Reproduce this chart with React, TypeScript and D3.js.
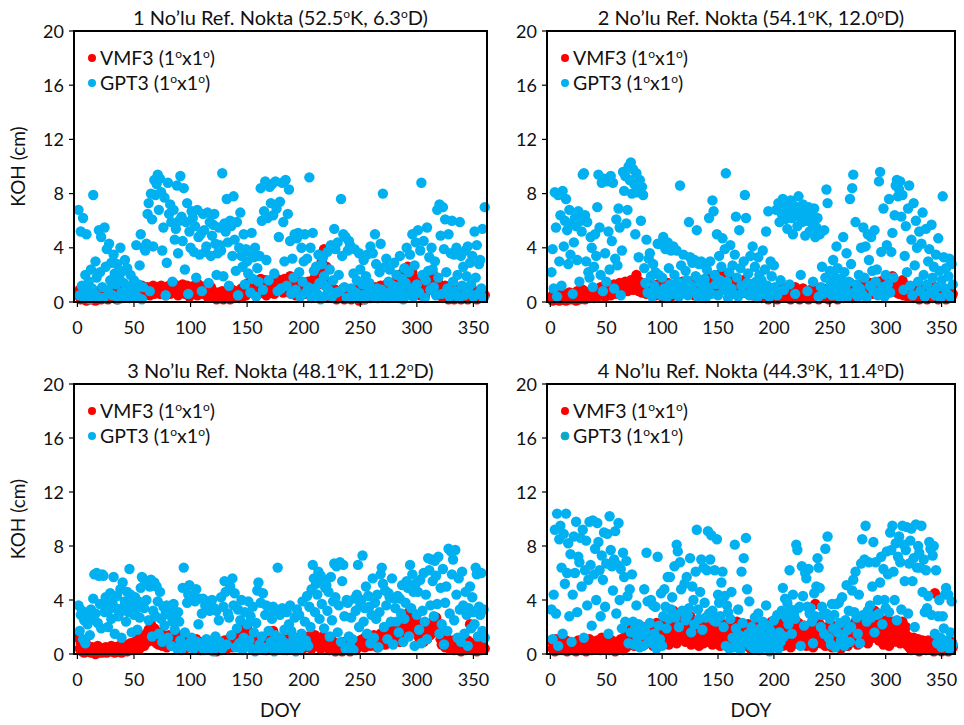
import React from "react";
import * as d3 from "d3";

// ---- data (DOY 1..360, one value per day) ----
const panelNumbers = ["1", "2", "3", "4"];
const panelLats = ["52.5", "54.1", "48.1", "44.3"];
const panelLons = ["6.3", "12.0", "11.2", "11.4"];
const seriesNames = ["VMF3", "GPT3"];
const xTicks = [0, 50, 100, 150, 200, 250, 300, 350];
const yTicks = [0, 4, 8, 12, 16, 20];

const vmf3P1 = [
  0.5,0.9,0.2,0.6,0.3,0.8,0.4,0.1,0.7,0.3, 0.6,0.2,0.9,0.4,0.5,0.1,0.7,0.3,0.8,0.4,
  0.2,0.6,0.9,0.3,0.5,0.7,0.2,0.8,0.4,0.6, 0.9,0.3,0.5,1.0,0.2,0.7,0.4,0.8,0.6,0.3,
  0.7,0.9,0.4,0.6,1.1,0.3,0.8,0.5,0.9,0.4, 0.6,1.0,0.8,0.4,0.9,0.7,1.2,0.5,0.8,1.0,
  0.7,1.1,0.9,0.5,1.0,0.8,1.2,0.6,0.9,1.1, 0.8,1.0,0.6,1.2,0.9,0.7,1.1,0.5,1.0,0.8,
  1.2,0.6,0.9,1.1,0.7,1.3,0.8,1.0,0.5,0.9, 1.1,0.7,1.3,0.9,0.6,1.0,1.2,0.8,0.4,1.1,
  0.9,0.6,1.2,0.8,1.0,0.5,1.3,0.7,1.1,0.9, 0.6,1.0,0.8,1.2,0.4,0.9,0.7,1.1,0.5,0.8,
  0.3,0.6,0.2,0.5,0.7,0.3,0.4,0.8,0.2,0.6, 0.4,0.7,0.3,0.5,0.2,0.6,0.9,0.4,0.3,0.7,
  0.5,0.8,0.3,0.6,1.0,0.4,0.7,1.2,0.5,0.9, 1.4,0.8,1.1,1.6,0.7,1.3,0.9,1.5,1.0,0.6,
  1.2,1.7,0.8,1.4,1.0,1.6,0.5,1.3,0.9,1.1, 0.7,1.5,1.2,0.6,1.8,1.0,1.4,0.8,1.6,1.1,
  1.3,0.7,1.7,1.0,1.5,0.9,1.2,1.9,0.6,1.4, 1.0,1.3,0.5,1.6,1.1,0.8,1.4,0.7,1.2,1.0,
  0.6,1.1,0.9,1.5,0.7,1.3,0.8,1.0,1.7,1.2, 1.5,2.1,1.3,2.5,1.8,3.0,2.2,3.9,1.6,2.6,
  1.2,0.8,0.4,1.0,0.3,0.7,0.5,0.9,0.2,0.6, 0.4,0.8,0.3,0.6,1.0,0.2,0.7,0.5,0.9,0.3,
  0.6,0.2,0.8,0.4,0.5,0.9,0.3,0.7,0.1,0.6, 0.3,0.7,0.5,0.2,0.8,0.4,0.6,0.9,0.3,0.5,
  0.8,0.4,1.1,0.6,0.3,0.9,0.5,1.2,0.7,0.4, 0.9,0.5,1.3,0.7,1.0,0.4,1.1,0.6,0.8,1.4,
  1.0,1.6,0.7,1.3,1.8,0.9,2.1,1.2,1.6,2.4, 1.5,2.6,1.1,1.9,0.8,2.2,1.3,1.0,0.6,1.7,
  0.9,1.4,0.5,1.2,0.7,1.0,0.4,1.5,0.8,1.1, 1.6,2.3,1.3,2.1,0.9,1.8,1.2,0.6,1.4,0.8,
  0.5,1.0,0.3,0.7,1.2,0.4,0.9,0.2,0.6,1.0, 0.4,0.8,0.2,0.6,0.3,0.9,0.5,0.7,0.2,0.4,
  0.6,0.3,0.9,0.5,0.2,0.7,0.4,1.0,0.3,0.6, 0.8,0.4,0.2,0.7,0.5,0.3,0.9,0.4,0.6,0.5,
];
const gpt3P1 = [
  6.8,0.5,5.2,1.2,6.2,0.3,2.0,5.0,0.8,1.5, 0.2,2.4,1.0,7.9,0.6,3.0,1.8,0.4,5.3,2.2,
  4.8,1.1,0.3,5.5,2.6,3.9,0.9,4.3,1.6,2.9, 0.5,3.5,2.1,1.3,2.8,0.2,1.9,4.0,0.7,2.3,
  1.4,3.1,0.4,2.5,1.0,0.3,2.0,1.2,0.6,1.6, 0.9,4.2,0.4,1.3,2.7,5.0,0.2,1.1,4.0,3.8,
  4.3,6.5,7.3,0.8,8.0,6.1,4.1,9.0,7.9,8.7, 9.4,6.8,9.1,8.1,3.8,5.5,7.7,0.5,2.9,8.8,
  6.5,7.2,5.9,1.5,6.8,4.6,5.4,8.6,3.6,6.0, 9.3,6.3,4.5,8.4,2.4,5.9,7.3,0.6,5.2,4.0,
  6.7,6.2,3.7,5.6,1.8,6.8,4.8,3.5,5.0,0.8, 6.5,5.3,3.7,4.1,6.6,1.4,5.9,3.4,4.9,5.7,
  6.5,4.3,2.0,3.6,5.5,4.2,3.8,9.5,1.9,5.8, 5.2,7.6,4.4,1.2,6.0,5.6,3.4,7.8,4.6,2.3,
  5.9,0.5,4.0,6.6,3.4,2.6,5.0,1.3,3.9,3.0, 2.1,3.7,0.7,5.1,1.7,3.3,4.0,0.4,2.5,1.5,
  3.4,8.4,6.0,0.9,6.7,8.9,3.1,6.2,1.6,8.5, 7.3,8.7,6.4,2.1,8.9,6.9,0.8,4.8,7.4,1.0,
  8.8,5.9,3.0,9.0,1.2,6.5,8.3,4.5,0.6,3.2, 1.8,5.0,0.9,4.7,5.1,2.2,0.4,4.0,1.5,3.0,
  5.0,0.7,3.2,1.1,9.2,4.0,0.3,5.1,2.3,1.0, 2.6,0.6,3.5,1.4,0.2,2.8,3.3,1.9,1.2,0.5,
  3.7,0.9,2.4,4.2,0.4,1.6,5.4,3.9,0.7,4.4, 2.0,0.8,7.6,3.4,5.0,1.1,4.8,0.3,3.8,4.5,
  4.2,1.0,0.4,2.1,3.9,0.7,1.6,0.3,3.6,2.4, 0.5,1.3,3.1,0.2,1.9,3.5,0.8,1.4,4.1,0.6,
  3.6,0.4,5.0,2.8,1.0,0.3,2.2,4.3,0.9,8.0, 0.5,2.6,3.2,0.3,1.5,2.4,0.8,0.4,1.2,2.9,
  0.6,2.0,1.1,0.3,3.4,0.9,1.7,0.2,2.5,1.4, 4.0,0.5,2.2,3.5,1.0,5.0,0.4,2.7,4.4,1.3,
  5.3,0.7,3.8,8.8,2.0,4.5,0.3,1.6,5.5,2.3, 3.3,0.9,4.0,2.4,1.1,3.0,0.5,6.8,1.8,7.2,
  4.9,0.6,7.0,3.9,6.1,2.2,1.0,5.0,0.4,3.6, 6.0,1.5,3.5,0.8,4.0,2.0,0.3,5.9,3.4,1.2,
  2.6,0.5,3.8,1.9,4.1,0.7,2.9,1.3,3.4,0.4, 5.2,1.8,4.2,0.6,2.8,3.1,1.0,5.4,0.3,7.0,
];
const vmf3P2 = [
  0.4,0.1,0.6,0.3,0.8,0.2,0.5,0.1,0.7,0.3, 0.2,0.6,0.4,0.1,0.5,0.3,0.7,0.2,0.4,0.6,
  0.3,0.5,0.1,0.8,0.4,0.2,0.6,0.3,0.9,0.5, 0.2,0.7,0.4,0.6,0.3,0.8,0.5,1.0,0.3,0.6,
  0.8,0.4,0.9,0.6,1.1,0.5,0.7,1.0,0.4,0.8, 0.6,1.2,0.8,0.5,1.0,0.7,1.3,0.9,0.6,1.1,
  0.8,1.4,1.0,0.7,1.2,0.9,1.5,1.1,0.8,1.3, 1.0,1.6,1.2,0.9,1.4,1.1,2.0,1.3,0.8,1.5,
  1.1,0.7,1.3,0.9,1.2,0.6,1.0,1.4,0.8,1.1, 0.7,1.2,0.9,0.5,1.0,1.3,0.6,0.9,1.1,0.4,
  0.8,1.2,0.5,0.9,1.4,0.7,1.0,0.4,1.2,0.8, 0.6,1.1,0.9,1.3,0.5,1.0,0.7,1.5,0.8,1.2,
  0.9,0.6,1.3,1.0,0.7,1.5,0.8,1.1,0.5,1.4, 1.0,1.3,0.7,1.6,0.9,1.2,0.6,1.4,1.0,1.7,
  1.1,0.8,1.5,1.2,1.9,0.9,1.4,1.0,1.6,2.0, 1.2,1.8,0.9,1.5,2.1,1.1,1.6,0.8,1.3,1.9,
  1.0,1.4,0.7,1.2,1.7,0.9,1.3,0.6,1.5,1.1, 0.8,1.2,1.6,0.7,1.0,1.4,0.6,1.1,0.9,1.3,
  0.5,1.0,0.8,1.2,0.4,0.9,0.7,1.1,0.3,0.8, 0.6,1.0,0.4,0.8,0.2,0.7,0.5,0.9,0.3,0.6,
  0.4,0.8,0.2,0.6,0.9,0.3,0.7,0.5,1.0,0.4, 0.7,0.3,0.9,0.5,0.2,0.8,0.4,0.6,1.1,0.3,
  0.5,0.9,0.2,0.7,0.4,1.0,0.6,0.3,0.8,0.5, 0.2,0.6,0.9,0.4,0.7,0.3,0.5,1.1,0.6,0.2,
  0.8,0.4,0.6,1.0,0.3,0.7,0.5,0.9,0.2,0.6, 0.4,0.8,0.3,0.6,1.0,0.5,0.2,0.7,0.4,0.9,
  0.6,0.3,0.8,1.2,0.5,0.9,0.4,1.4,0.7,0.3, 1.0,0.6,0.8,0.4,1.1,0.7,0.5,0.9,1.3,0.6,
  0.8,1.2,0.5,1.0,0.7,1.4,0.9,0.6,1.1,0.8, 1.3,0.7,1.0,1.5,0.8,1.2,0.6,1.6,0.9,1.1,
  1.4,0.8,1.7,1.0,1.3,1.9,0.9,1.2,1.5,0.7, 1.1,0.6,1.3,0.9,1.6,0.5,1.0,0.7,1.2,0.4,
  0.8,1.1,0.5,0.9,0.3,0.7,1.0,0.4,0.6,0.2, 0.5,0.9,0.3,0.7,0.4,0.8,0.2,0.6,1.0,0.4,
  0.7,0.3,0.6,1.1,0.5,0.8,0.2,0.5,0.9,0.3, 0.6,0.4,0.8,0.2,0.7,0.5,0.3,0.9,0.4,0.6,
];
const gpt3P2 = [
  2.2,3.9,1.0,8.1,5.5,0.4,7.9,3.0,6.4,1.2, 8.2,4.1,6.0,7.6,5.3,2.8,6.8,3.5,5.8,0.6,
  4.4,6.2,5.6,3.1,6.7,1.5,6.0,5.2,9.4,9.5, 6.4,3.0,5.9,2.2,1.8,4.8,4.0,1.1,2.6,5.0,
  3.4,7.0,9.4,5.5,2.0,8.8,0.8,9.1,3.6,1.5, 8.9,5.2,2.4,9.3,4.5,8.8,1.0,3.2,6.1,2.7,
  6.9,5.5,0.5,3.8,9.6,8.2,9.3,5.8,6.8,10.0, 9.0,10.3,8.0,9.8,8.7,5.0,9.5,8.1,3.3,9.0,
  6.0,8.5,7.9,2.5,1.4,4.6,0.7,3.2,3.6,1.9, 0.4,2.8,1.2,2.2,0.8,4.3,2.0,4.3,0.5,1.8,
  4.8,1.0,3.9,0.3,4.4,2.5,1.3,3.8,0.6,4.1, 2.0,0.9,3.8,1.5,0.4,8.6,2.7,1.1,3.5,0.7,
  2.3,1.6,0.5,5.9,3.3,1.2,2.9,0.8,3.1,1.9, 5.3,0.4,2.8,1.4,3.0,0.9,2.8,1.7,0.3,2.4,
  1.1,6.2,3.0,0.6,7.5,6.7,2.0,1.3,5.0,0.5, 3.4,1.6,2.6,4.7,0.9,3.9,9.5,1.5,0.3,2.2,
  4.2,1.0,2.7,0.6,3.5,6.3,1.8,0.4,5.3,2.5, 1.2,0.7,3.0,7.9,6.2,1.4,2.1,0.5,3.4,1.0,
  4.1,0.8,2.6,1.5,0.3,3.3,2.0,0.9,1.6,3.8, 0.6,2.4,5.2,1.2,6.7,0.4,3.0,1.9,0.7,2.7,
  1.1,6.8,0.5,7.3,5.9,1.6,6.5,7.6,0.9,6.1, 7.0,5.4,6.6,1.3,7.5,6.2,5.0,7.1,0.6,6.8,
  5.6,7.8,6.3,2.0,5.9,7.2,6.6,4.9,6.0,0.8, 7.0,5.2,6.4,5.8,1.5,6.9,4.8,5.5,6.2,0.4,
  5.0,1.1,2.6,0.6,5.3,1.8,8.3,7.3,0.9,2.3, 1.4,0.5,3.1,1.9,0.8,4.1,2.5,1.2,0.3,1.7,
  0.6,4.8,2.2,1.0,3.6,0.4,1.5,7.6,2.8,8.4, 9.4,0.7,5.9,1.3,0.4,2.0,1.0,4.0,0.6,5.5,
  1.8,4.1,0.3,5.0,3.1,1.2,4.8,2.3,0.8,5.3, 1.5,2.4,0.5,8.9,9.6,3.7,1.1,6.9,0.4,2.0,
  4.2,1.3,7.6,0.7,3.7,5.1,1.8,6.4,8.6,9.0, 7.8,8.3,8.9,6.3,7.9,0.9,3.4,5.6,2.2,6.9,
  8.6,1.2,4.6,0.5,7.3,2.7,6.0,4.0,1.5,5.2, 0.8,4.3,6.6,2.0,0.4,5.4,1.3,3.0,3.9,0.7,
  5.7,1.8,2.6,0.5,3.5,1.1,4.7,2.3,0.3,1.6, 7.8,3.3,1.0,2.5,0.6,1.9,3.2,0.4,2.8,1.3,
];
const vmf3P3 = [
  1.2,0.4,0.8,0.2,0.5,0.1,0.9,0.3,0.6,0.2, 0.3,0.1,0.5,0.2,0.4,0.0,0.3,0.6,0.1,0.2,
  0.4,0.1,0.3,0.2,0.5,0.1,0.4,0.2,0.3,0.6, 0.2,0.4,0.1,0.5,0.3,0.2,0.6,0.4,0.1,0.5,
  0.3,0.7,0.4,0.2,0.6,0.5,0.8,0.3,0.7,0.4, 0.9,0.5,1.1,0.7,0.4,1.0,0.8,1.3,0.6,1.2,
  1.5,0.9,1.8,1.2,2.2,1.6,1.0,1.9,1.4,0.8, 1.3,0.7,1.6,1.1,0.6,1.4,0.9,1.2,0.5,1.0,
  1.4,0.8,1.1,0.6,1.3,0.9,1.5,0.7,1.0,0.5, 0.9,1.2,0.6,1.0,0.4,0.8,1.1,0.5,0.9,0.7,
  1.0,0.6,0.8,0.4,1.1,0.7,0.5,0.9,0.3,0.8, 0.6,0.9,0.4,0.7,1.0,0.5,0.8,0.3,0.6,0.9,
  0.4,0.7,0.2,0.6,0.9,0.5,0.3,0.8,0.6,1.0, 0.7,0.4,0.9,0.6,1.2,0.8,0.5,1.0,0.7,1.3,
  0.9,1.5,1.1,0.7,1.8,1.3,1.0,1.6,0.8,1.9, 1.2,0.9,1.4,0.6,1.1,0.8,1.3,0.5,1.0,0.7,
  0.9,0.4,1.2,0.7,0.5,1.0,0.3,0.8,1.1,0.6, 1.3,0.8,1.7,0.5,1.0,0.7,1.2,0.4,0.9,0.6,
  0.8,1.1,0.5,0.9,0.3,0.7,1.0,0.6,1.3,0.4, 0.7,1.0,0.5,0.8,1.2,0.6,0.9,0.3,1.1,0.7,
  1.0,0.5,0.8,1.3,0.6,0.9,0.4,1.1,0.7,1.4, 0.8,1.2,0.6,1.0,0.4,0.9,1.3,0.7,0.5,1.1,
  0.6,0.9,0.3,0.7,1.0,0.5,0.8,0.2,0.6,0.4, 0.8,0.3,0.6,0.2,0.5,0.9,0.4,0.7,0.3,0.6,
  0.2,0.5,0.8,0.4,0.6,0.3,0.9,0.5,0.7,1.0, 0.6,1.1,0.8,0.5,1.3,0.9,0.7,1.2,0.6,1.0,
  0.8,1.4,0.7,1.1,0.5,1.2,0.9,1.5,0.8,1.0, 1.3,0.7,1.1,1.6,0.9,1.4,1.0,1.7,0.8,1.2,
  1.5,1.0,1.8,1.3,0.9,1.6,2.0,1.2,2.3,1.7, 2.6,2.0,3.1,2.4,2.8,2.2,3.0,1.9,2.5,2.1,
  1.6,1.2,1.8,1.0,1.4,0.9,1.7,1.3,1.1,1.5, 1.9,1.4,2.2,1.7,2.5,2.0,2.7,1.8,2.3,1.5,
  1.1,0.7,1.3,0.9,0.5,1.2,0.8,1.0,0.4,0.9, 0.6,1.0,0.3,0.8,0.5,1.1,0.4,0.7,0.2,0.6,
  0.9,0.5,0.3,0.7,1.0,0.4,2.2,0.6,0.3,0.8, 0.5,0.9,0.2,0.6,0.4,1.0,0.3,0.7,0.5,0.4,
];
const gpt3P3 = [
  3.6,1.7,2.9,3.2,1.1,2.5,0.8,3.0,2.2,2.9, 1.4,3.3,2.6,4.1,5.9,3.0,6.0,2.3,5.8,3.7,
  1.9,5.9,5.8,3.1,4.2,3.6,2.0,3.3,4.5,2.6, 3.8,5.7,1.5,3.4,4.3,2.8,3.0,4.8,1.2,5.3,
  3.5,3.9,2.4,4.6,3.1,6.3,4.4,1.6,3.7,2.9, 4.2,3.3,1.8,3.9,2.7,4.9,5.7,5.6,3.4,5.4,
  4.0,5.2,2.5,5.0,5.5,1.3,3.2,5.3,2.8,5.0, 3.9,1.5,4.6,2.6,0.9,3.5,2.1,3.0,3.6,1.2,
  2.9,3.3,0.6,2.4,3.7,1.8,2.7,0.4,3.1,2.4, 1.0,0.3,4.9,6.4,1.6,0.7,3.8,4.4,5.1,0.5,
  1.2,4.3,0.4,3.9,4.8,0.9,2.2,4.1,0.6,3.0, 4.1,0.3,3.6,1.1,3.9,0.5,3.2,0.8,4.0,0.2,
  3.4,1.3,3.2,0.6,2.5,0.9,4.2,0.4,3.5,5.4, 4.6,0.7,3.0,2.7,5.0,1.4,5.6,3.6,4.5,0.5,
  1.9,3.3,0.8,2.5,4.0,0.3,1.2,3.1,0.6,2.2, 3.9,1.0,2.8,0.4,3.5,1.6,0.2,2.3,4.7,5.3,
  0.7,3.8,1.3,4.5,0.3,2.9,3.6,0.5,1.7,3.2, 0.9,2.6,3.5,0.2,1.4,3.0,6.4,0.6,2.9,1.1,
  3.4,0.3,1.8,0.8,3.1,0.4,2.2,3.6,1.7,0.5, 1.2,2.7,0.2,3.3,0.9,2.9,0.4,1.5,3.9,0.7,
  2.4,1.0,4.3,0.6,3.5,2.0,4.8,6.6,5.6,3.1, 5.2,4.4,6.1,2.6,5.8,3.7,5.5,1.9,4.9,5.1,
  3.2,4.6,1.3,5.7,2.5,3.9,6.7,4.2,6.5,1.6, 3.6,6.8,0.9,5.4,6.6,2.8,0.4,4.0,3.8,1.3,
  0.6,2.7,1.1,0.3,4.1,3.2,4.4,6.6,2.0,3.6, 4.0,7.3,2.4,3.4,5.0,1.5,4.3,3.5,0.8,2.9,
  5.6,1.2,3.8,2.6,4.4,0.5,3.1,5.9,6.4,5.2, 2.0,4.7,3.6,1.1,4.5,4.2,2.4,5.6,0.7,4.1,
  3.4,2.4,4.3,1.6,4.1,3.0,5.1,0.9,2.6,3.8, 5.4,4.9,1.3,6.6,3.4,5.9,4.6,0.6,5.2,2.9,
  4.6,1.8,5.5,0.8,3.2,6.0,2.4,4.4,1.1,7.1, 6.2,3.6,7.0,5.4,2.8,6.9,5.8,3.7,7.2,1.5,
  4.9,2.2,6.3,0.7,3.8,5.0,1.7,7.8,3.0,7.6, 5.9,7.0,2.5,7.7,4.4,1.2,5.6,3.3,0.9,6.1,
  3.6,1.5,4.6,2.9,0.6,3.4,5.0,1.9,4.2,3.1, 2.2,6.4,5.9,1.3,3.5,2.9,6.0,1.7,3.3,1.2,
];
const vmf3P4 = [
  1.0,0.4,0.7,0.2,1.1,0.5,0.8,0.3,0.9,0.6, 0.3,0.7,0.5,1.0,0.2,0.6,0.9,0.4,0.7,0.3,
  0.8,0.5,0.2,0.6,1.0,0.4,0.7,0.3,0.9,0.5, 0.6,0.2,0.8,0.4,1.1,0.5,0.3,0.7,0.9,0.4,
  0.7,1.0,0.5,0.8,0.3,1.2,0.6,0.9,0.4,0.7, 0.5,0.9,0.3,0.6,1.0,0.4,0.8,0.2,0.7,0.5,
  0.9,0.4,1.1,0.6,0.3,0.8,1.3,0.5,1.0,0.7, 1.5,0.9,1.9,1.2,0.6,1.7,1.0,2.1,1.4,0.8,
  1.6,1.1,2.0,0.7,1.3,1.8,0.9,1.5,2.2,1.0, 1.4,0.6,1.9,1.1,2.3,0.8,1.6,1.2,2.0,0.9,
  1.7,2.4,1.0,1.5,2.1,0.7,1.8,1.3,2.6,3.2, 1.4,2.0,0.8,1.7,2.5,1.1,1.9,3.0,1.3,2.2,
  0.9,1.6,2.3,1.2,2.8,0.7,1.8,1.4,2.1,1.0, 1.5,2.4,0.6,1.9,1.2,2.0,0.8,1.6,2.3,1.1,
  1.8,0.9,2.2,1.4,0.7,1.7,2.5,1.0,1.5,2.0, 1.2,0.6,1.9,1.3,2.2,0.8,1.6,1.1,2.0,0.5,
  1.4,1.8,0.7,2.1,1.0,1.5,2.4,0.9,1.7,1.2, 2.0,0.8,1.3,1.9,0.6,1.6,2.2,1.1,0.4,1.5,
  1.0,1.8,0.7,1.4,2.3,0.9,1.6,0.5,1.2,1.9, 0.8,1.5,2.1,1.1,0.6,1.7,1.3,2.4,0.9,1.6,
  2.0,1.2,0.7,1.8,2.3,1.0,1.5,0.6,2.1,1.4, 0.9,1.7,2.2,1.1,0.5,1.9,1.3,2.0,0.8,1.6,
  1.2,2.3,0.7,1.5,1.9,1.0,2.1,1.4,0.6,1.8, 1.3,0.9,2.0,1.6,0.5,1.2,3.7,1.8,1.0,1.4,
  2.2,0.8,1.5,1.1,1.9,0.6,1.3,2.0,0.9,1.6, 1.2,0.5,1.8,1.0,1.4,2.1,0.7,1.6,1.1,0.4,
  1.5,1.9,0.8,1.3,2.2,0.6,1.7,1.0,1.4,2.0, 0.9,1.6,2.4,1.2,0.7,1.8,1.3,2.1,1.0,1.5,
  2.3,1.1,1.7,0.8,2.0,1.4,2.6,1.2,1.8,3.2, 2.4,1.5,2.8,1.0,1.9,2.2,1.3,0.7,1.6,2.5,
  1.1,1.8,0.6,2.1,1.4,2.4,0.9,1.7,2.0,1.2, 2.3,1.5,0.8,1.9,2.4,1.1,1.6,2.0,0.7,1.3,
  0.5,1.0,0.3,0.8,1.2,0.4,0.9,0.6,1.1,0.2, 0.7,0.4,1.0,0.5,0.8,0.3,0.6,1.0,0.4,0.7,
  0.5,0.9,0.2,4.5,0.6,0.3,0.8,0.4,0.7,0.2, 0.6,0.9,0.3,0.5,0.8,0.2,0.6,0.4,0.9,0.5,
];
const gpt3P4 = [
  3.3,1.1,4.4,9.2,3.0,10.4,0.6,8.5,9.5,6.4, 1.5,8.9,5.2,10.4,6.0,8.2,2.8,7.4,0.9,4.4,
  8.7,6.0,9.8,3.1,7.2,6.8,8.6,5.0,9.2,1.2, 6.2,8.4,3.6,5.5,9.8,6.6,2.1,9.9,5.9,7.8,
  4.0,9.7,8.3,6.2,2.8,7.3,5.5,9.0,3.5,6.7, 8.9,1.5,10.2,7.7,6.5,4.7,7.0,9.1,3.0,6.6,
  9.7,4.0,6.3,1.9,7.5,5.7,2.4,6.9,4.3,0.8, 4.8,1.6,5.9,2.4,0.7,1.9,3.6,1.2,2.2,0.5,
  1.4,2.0,0.6,4.8,1.7,7.5,3.9,1.0,2.3,4.0, 0.8,3.6,1.5,3.5,0.4,7.2,2.1,1.1,4.5,0.6,
  2.8,4.8,3.5,1.9,5.7,2.6,5.7,3.3,4.2,3.0, 6.5,2.7,8.1,7.6,2.0,6.8,4.8,3.2,3.1,5.2,
  2.5,5.7,2.9,3.4,7.1,1.6,5.0,4.0,2.2,6.1, 9.2,3.3,2.6,4.6,7.0,1.8,6.4,3.8,2.7,6.2,
  9.1,3.0,7.0,8.8,3.2,2.5,6.2,2.4,8.5,4.4, 3.8,2.8,5.3,6.1,2.0,4.3,0.6,3.6,3.1,0.4,
  2.6,4.6,1.2,0.5,8.1,1.9,0.7,3.3,1.4,0.3, 6.1,2.3,7.1,0.9,8.6,4.8,1.5,3.9,0.6,2.0,
  1.1,0.4,2.7,1.6,0.8,3.0,0.3,1.9,1.0,2.4, 0.5,1.3,3.6,0.7,2.1,0.2,1.7,1.0,0.5,2.5,
  1.2,0.8,2.9,0.4,1.6,0.9,3.2,4.9,1.3,4.1, 2.7,3.8,2.2,6.2,3.3,1.5,4.4,2.9,2.6,8.1,
  7.7,3.4,3.5,0.6,6.5,4.3,2.1,6.0,5.6,3.5, 6.3,3.0,3.4,2.4,0.8,4.5,2.8,5.0,7.1,6.4,
  4.9,2.0,3.5,2.9,1.5,7.8,3.0,8.7,1.2,2.6, 0.7,3.7,1.9,2.9,0.5,3.7,1.6,3.8,2.3,1.0,
  4.2,1.4,0.6,2.5,5.1,1.8,3.2,0.9,2.0,4.7, 5.5,3.1,6.1,2.7,1.5,4.4,0.8,6.7,8.5,2.9,
  7.0,9.5,2.4,3.2,6.8,3.6,2.7,5.0,8.3,1.6, 6.8,2.9,4.0,3.0,5.3,7.2,2.2,6.3,4.0,3.4,
  7.6,5.9,3.1,9.0,7.7,9.5,6.1,4.0,8.2,2.5, 7.2,8.7,6.8,3.3,9.5,8.1,5.4,7.7,9.4,3.0,
  6.7,8.4,9.3,5.4,7.1,2.0,9.6,6.4,8.0,7.5, 6.4,9.5,4.6,7.0,3.1,6.2,3.4,4.3,8.3,7.8,
  2.9,7.3,8.0,1.5,6.2,0.8,2.8,4.0,1.2,0.5, 2.8,1.9,4.4,4.9,1.0,4.4,0.4,1.6,3.9,0.7,
];

const vmf3Series = [vmf3P1, vmf3P2, vmf3P3, vmf3P4];
const gpt3Series = [gpt3P1, gpt3P2, gpt3P3, gpt3P4];

// ---- layout ----
const W = 964;
const H = 725;
const FONT = "Lato, 'Open Sans', 'Liberation Sans', sans-serif";
const RED = "#FF0000";
const BLUE = "#00B0F0";
const frames = [
  { x0: 74, x1: 487, y0: 31, y1: 302 },
  { x0: 547, x1: 955, y0: 31, y1: 302 },
  { x0: 74, x1: 487, y0: 384, y1: 654 },
  { x0: 547, x1: 955, y0: 384, y1: 654 },
];

function Panel({ idx }: { idx: number }) {
  const f = frames[idx];
  const x = d3.scaleLinear().domain([-3, 362]).range([f.x0, f.x1]);
  const y = d3.scaleLinear().domain([0, 20]).range([f.y1, f.y0]);
  const vmf = vmf3Series[idx];
  const gpt = gpt3Series[idx];
  const cx = (f.x0 + f.x1) / 2;
  const isBottom = idx >= 2;
  const isLeft = idx % 2 === 0;
  return (
    <g>
      <text x={cx} y={f.y0 - 6} textAnchor="middle" fontSize={20} fontFamily={FONT} fill="#111">
        {`${panelNumbers[idx]} No’lu Ref. Nokta (${panelLats[idx]}`}
        <tspan dy={-7} fontSize={12}>o</tspan>
        <tspan dy={7}>{`K, ${panelLons[idx]}`}</tspan>
        <tspan dy={-7} fontSize={12}>o</tspan>
        <tspan dy={7}>D)</tspan>
      </text>
      {vmf.map((v, i) => (
        <circle key={"r" + i} cx={x(i + 1)} cy={y(v)} r={5.2} fill={RED} />
      ))}
      {gpt.map((v, i) => (
        <circle key={"b" + i} cx={x(i + 1)} cy={y(v)} r={5.2} fill={BLUE} />
      ))}
      <rect x={f.x0} y={f.y0} width={f.x1 - f.x0} height={f.y1 - f.y0} fill="none" stroke="#000" strokeWidth={2} />
      {yTicks.map((t) => (
        <g key={"y" + t}>
          <line x1={f.x0 - 5} x2={f.x0} y1={y(t)} y2={y(t)} stroke="#000" strokeWidth={1.2} />
          <text x={f.x0 - 10} y={y(t) + 6.5} textAnchor="end" fontSize={18} fontFamily={FONT} fill="#111">{t}</text>
        </g>
      ))}
      {xTicks.map((t) => (
        <g key={"x" + t}>
          <line x1={x(t)} x2={x(t)} y1={f.y1} y2={f.y1 + 5} stroke="#000" strokeWidth={1.2} />
          <text x={x(t)} y={f.y1 + 32} textAnchor="middle" fontSize={18} fontFamily={FONT} fill="#111">{t}</text>
        </g>
      ))}
      {seriesNames.map((s, k) => (
        <g key={s}>
          <circle cx={f.x0 + 18} cy={f.y0 + 27 + k * 25} r={4}
            fill={k === 0 ? RED : idx === 3 ? "#16A6B8" : BLUE}
            stroke={k === 1 && idx === 3 ? BLUE : "none"} strokeWidth={1} />
          <text x={f.x0 + 26} y={f.y0 + 34 + k * 25} fontSize={19.5} fontFamily={FONT} fill="#111">
            {`${s} (1`}
            <tspan dy={-7} fontSize={12}>o</tspan>
            <tspan dy={7}>x1</tspan>
            <tspan dy={-7} fontSize={12}>o</tspan>
            <tspan dy={7}>)</tspan>
          </text>
        </g>
      ))}
      {isBottom && (
        <text x={cx} y={f.y1 + 63} textAnchor="middle" fontSize={19} fontFamily={FONT} fill="#111">DOY</text>
      )}
      {isLeft && (
        <text transform={`translate(25,${(f.y0 + f.y1) / 2}) rotate(-90)`} textAnchor="middle" fontSize={19} fontFamily={FONT} fill="#111">KOH (cm)</text>
      )}
    </g>
  );
}

export default function App() {
  return (
    <svg width={W} height={H} style={{ position: "absolute", left: 0, top: 0, background: "#fff" }}>
      <rect x={0} y={0} width={W} height={H} fill="#fff" />
      {[0, 1, 2, 3].map((i) => (
        <Panel key={i} idx={i} />
      ))}
    </svg>
  );
}
